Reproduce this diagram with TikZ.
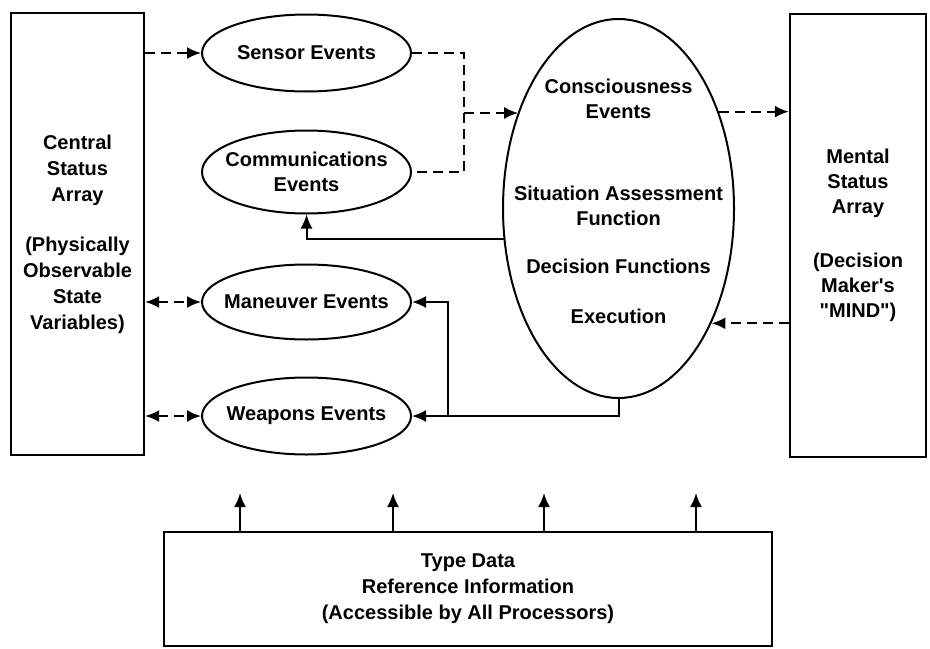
\documentclass[tikz,border=0pt]{standalone}
\usepackage{fontspec}
\setmainfont{Liberation Sans}
\usetikzlibrary{shapes.geometric,arrows.meta}

\begin{document}
\begin{tikzpicture}[
x=0.5pt, y=-0.5pt,
font=\bfseries\fontsize{10}{12.5}\selectfont,
>={Latex[length=7pt,width=6pt]},
arraybox/.style={
  draw,
  line width=1.2pt,
  align=center,
  font=\bfseries\fontsize{10}{13}\selectfont
  },
evt/.style={
  draw,
  ellipse,
  line width=1pt,
  align=center,
  inner xsep=-5pt,
  inner ysep=0pt,
  minimum width=104.5pt,
  minimum height=38.5pt
  },
link/.style={line width=1pt},
dlink/.style={line width=1pt, dash pattern=on 5pt off 3pt}
]
\useasboundingbox (0,0) rectangle (930,648);

\node[arraybox, minimum width=66.5pt, minimum height=221pt] (csa) at (77.5,234)
  {Central\\Status\\Array\\[12pt](Physically\\Observable\\State\\Variables)};
\node[arraybox, font=\bfseries\fontsize{10}{12.5}\selectfont,
  minimum width=68pt, minimum height=221.5pt] (msa) at (858,235.5)
  {Mental\\Status\\Array\\[14.5pt](Decision\\Maker\textquotesingle s\\\textquotedbl MIND\textquotedbl)};

\node[evt] (sen) at (306.5,53) {Sensor Events};
\node[evt, minimum height=41.5pt] (com) at (306.5,172) {Communications\\Events};
\node[evt, minimum height=37.5pt] (man) at (306.5,302) {Maneuver Events};
\node[evt] (wea) at (306.5,416) {Weapons Events};

\node[draw, ellipse, line width=1pt, minimum width=115.5pt, minimum height=189.5pt]
  (sit) at (618.5,208.5) {};
\node[align=center, yshift=3.8pt] (sittxt) at (sit)
  {Consciousness\\Events\\[28.5pt]Situation Assessment\\Function\\[11.5pt]Decision Functions\\[12.5pt]Execution};

\node[arraybox, minimum width=304pt, minimum height=57pt] (tdr) at (468,589)
  {Type Data\\Reference Information\\(Accessible by All Processors)};

\coordinate (jn) at (464,113);
\coordinate (br) at (448,416);

% dashed flows
\draw[dlink,->] (csa.east |- sen.west) -- (sen.west);
\draw[dlink] (sen.east) -| (jn) |- (com.east);
\draw[dlink,->] (jn) -- (jn -| sit.136);
\draw[dlink,->] (sit.44) -- (sit.44 -| msa.west);
\draw[dlink,->] (msa.west |- sit.-51) -- (sit.-51);
\draw[dlink,<->] (csa.east |- man.west) -- (man.west);
\draw[dlink,<->] (csa.east |- wea.west) -- (wea.west);

% solid flows
\draw[link,->] (sit.195) -| (com.south);
\draw[link,->] (sit.south) |- (wea.east);
\draw[link,->] (br) |- (man.east);
\foreach \i/\x in {1/240,2/393,3/544,4/696} {
  \coordinate (up\i) at (\x,493);
  \draw[link,->] (tdr.north -| up\i) -- (up\i);
}
\end{tikzpicture}
\end{document}
